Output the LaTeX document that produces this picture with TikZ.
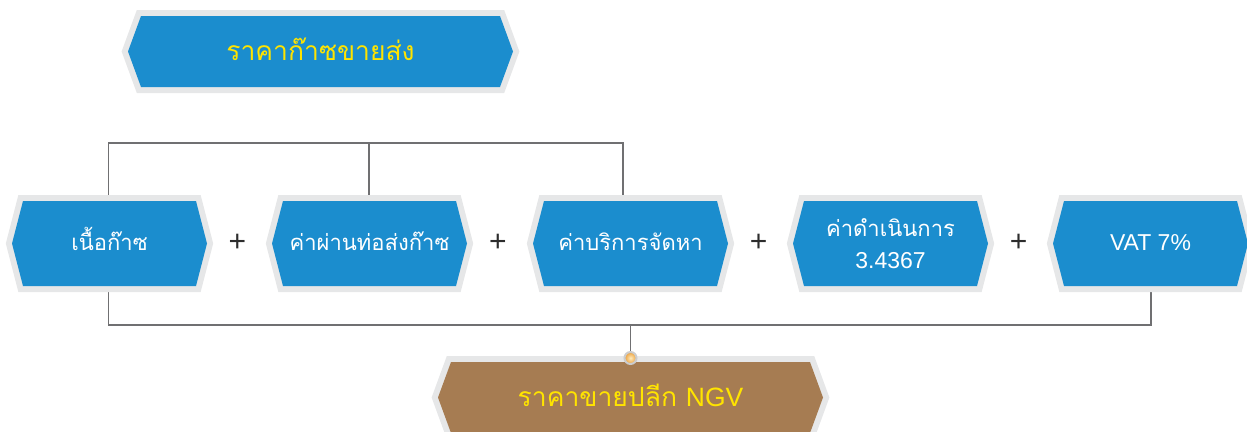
\documentclass[tikz,border=0pt]{standalone}
\usepackage{fontspec}
\setmainfont{Liberation Sans}
\newfontfamily\thai[Script=Thai]{Loma}
\newfontfamily\latin{Liberation Sans}
\usetikzlibrary{backgrounds}
\definecolor{boxblue}{RGB}{27,141,206}
\definecolor{boxbrown}{RGB}{166,124,82}
\definecolor{bordergray}{RGB}{230,231,232}
\definecolor{txtyellow}{RGB}{255,228,0}
\definecolor{linegray}{RGB}{112,112,114}
\definecolor{plusgray}{RGB}{45,45,45}
\definecolor{dotin}{RGB}{255,236,190}
\definecolor{dotout}{RGB}{236,160,60}
\newcommand\hexpath[2]{(#1.west) -- ([xshift=#2]#1.north west) -- ([xshift=-#2]#1.north east) -- (#1.east) -- ([xshift=-#2]#1.south east) -- ([xshift=#2]#1.south west) -- cycle}
\newcommand\lat{\latin\fontsize{23}{32}\selectfont}
\tikzset{
  rowbox/.style={minimum width=195pt, minimum height=85pt, inner sep=0pt, outer sep=0pt,
    text=white, align=center, font=\thai\fontsize{22}{32}\selectfont},
  oneline/.style={text height=18pt, text depth=4pt},
  titlebox/.style={minimum width=385pt, minimum height=71pt, inner sep=0pt, outer sep=0pt,
    text=txtyellow, align=center, font=\thai\fontsize{26.5}{30}\selectfont,
    text height=22pt, text depth=5pt},
  plussign/.style={text=plusgray, font=\latin\fontsize{30}{30}\selectfont, inner sep=0pt},
  conn/.style={draw=linegray, line width=1.5pt},
  hexborder/.style={draw=bordergray, line width=12pt, line join=miter},
}
\begin{document}
\begin{tikzpicture}[x=1pt, y=-1pt]
\useasboundingbox (0,0) rectangle (1247,431);
% title boxes
\node[titlebox] (wholesale) at (320.5,51.5) {ราคาก๊าซขายส่ง};
\node[titlebox] (ngv) at (630.5,397.5) {ราคาขายปลีก {\latin\fontsize{26.5}{30}\selectfont NGV}};
% row boxes
\node[rowbox, oneline] (b1) at (109.5,243.5) {เนื้อก๊าซ};
\node[rowbox, oneline] (b2) at (369.5,243.5) {ค่าผ่านท่อส่งก๊าซ};
\node[rowbox, oneline] (b3) at (630.5,243.5) {ค่าบริการจัดหา};
\node[rowbox] (b4) at (890.5,243.5) {ค่าดำเนินการ\\{\lat 3.4367}};
\node[rowbox, oneline] (b5) at (1150.5,243.5) {{\lat VAT 7\%}};
% plus signs
\node[plussign] (p1) at (237.5,243) {+};
\node[plussign] (p2) at (498,243) {+};
\node[plussign] (p3) at (758.5,243) {+};
\node[plussign] (p4) at (1018.5,243) {+};
% connector helpers
\coordinate (topbar) at (0,143);
\coordinate (botbar) at (0,325);
\node[circle, minimum size=12pt, inner sep=0pt, draw=black!20, line width=2pt,
  inner color=dotin, outer color=dotout] (dot) at ([yshift=4pt]ngv.north) {};
\begin{scope}[on background layer]
  \draw[conn] ([xshift=-0.8pt]b1.north) |- ([xshift=-7.5pt]b3.north |- topbar) -- ([xshift=-7.5pt]b3.north);
  \draw[conn] ([xshift=-0.3pt]b2.north) -- ([xshift=-0.3pt]b2.north |- topbar);
  \draw[conn] ([xshift=-0.8pt]b1.south) |- ([xshift=0.5pt]b5.south |- botbar) -- ([xshift=0.5pt]b5.south);
  \draw[conn] (dot.center |- botbar) -- (dot.center);
  \foreach \n/\i in {wholesale/13pt, ngv/13pt, b1/11pt, b2/11pt, b3/11pt, b4/11pt, b5/11pt}
    \path[hexborder] \hexpath{\n}{\i};
  \foreach \n/\i in {wholesale/13pt, b1/11pt, b2/11pt, b3/11pt, b4/11pt, b5/11pt}
    \path[fill=boxblue] \hexpath{\n}{\i};
  \path[fill=boxbrown] \hexpath{ngv}{13pt};
\end{scope}
\end{tikzpicture}
\end{document}
